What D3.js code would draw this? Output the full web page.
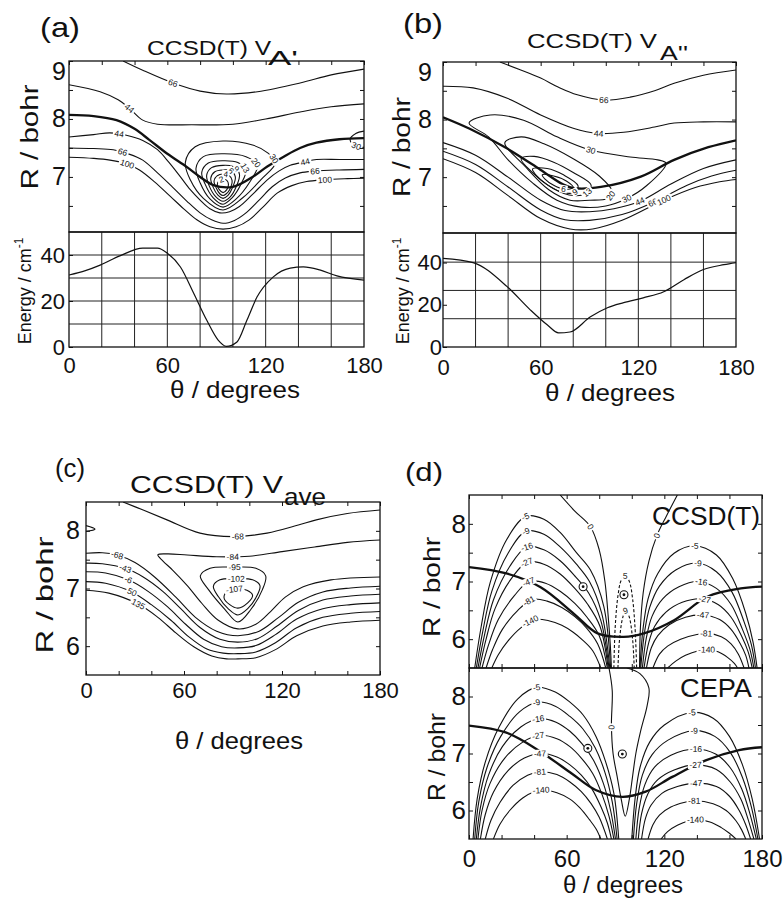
<!DOCTYPE html>
<html>
<head>
<meta charset="utf-8">
<script src="https://cdn.jsdelivr.net/npm/d3@7"></script>
<style>
  body { margin: 0; background: #fff; }
  text { font-family: "Liberation Sans", Arial, Helvetica, sans-serif; fill: #111; }
</style>
</head>
<body>
<svg id="fig" width="783" height="900"></svg>
<script>
// ---- axis values ----
const thetaTicks = [0, 20, 40, 60, 80, 100, 120, 140, 160, 180];
const thetaLabels = [0, 60, 120, 180];
const thetaGrid = [20, 40, 60, 80, 100, 120, 140, 160];
const rTicksAB = [6.5, 7, 7.5, 8, 8.5, 9];
const rLabelsAB = [7, 8, 9];
const rTicksCD = [6, 6.5, 7, 7.5, 8];
const rLabelsCD = [6, 7, 8];
const eGridA = [10, 20, 30, 40];
const eGridB = [13.4, 26.8, 40.2];
const eLabels = [0, 20, 40];

// ---- energy along the minimum path (theta, cm-1) ----
const aEnergy = [[0,31.3],[10,33.2],[19,35.6],[31,39.6],[45,43],[54,43],[60,40.8],[68,34.8],[76,23.5],[84,11.7],[91,3],[96,0.3],[102.5,2.2],[108.6,11.7],[114.7,21.7],[124.5,30.4],[135,34.3],[143,34.8],[153,33.5],[163.5,30.9],[180,29.1]];
const bEnergy = [[0,42],[18.5,40],[39.4,28.6],[53.6,17.6],[64,10.5],[71,6.7],[78,7.1],[90.6,14.3],[101,18.6],[111,21],[123,23.3],[135.6,26.2],[148,31.9],[160,36.7],[172.6,39],[180,40]];

// ---- contours, panel (a): CCSD(T) VA' ----
const aContours = [
  {v:"66", pts:[[33,9],[45,8.84],[63.5,8.62],[80,8.48],[96,8.43],[115,8.47],[141,8.62],[160,8.76],[180,8.86]], lab:[[63.5,8.62]]},
  {v:"44", pts:[[0,8.59],[19,8.47],[30,8.33],[37,8.18],[45,7.98],[54,7.91],[75,7.9],[100,7.91],[120,8.0],[141,8.12],[160,8.21],[180,8.26]], lab:[[36,8.16]]},
  {v:"", thick:true, pts:[[0,8.07],[15,8.05],[29,7.98],[40,7.83],[49,7.64],[60,7.4],[72,7.17],[80,7.0],[88,6.86],[100,6.83],[112,7.0],[121,7.18],[131,7.35],[141,7.5],[151,7.59],[165,7.65],[180,7.67]]},
  {v:"44", pts:[[0,7.69],[15,7.73],[25,7.76],[35,7.72],[45,7.63],[54,7.47],[61,7.25],[68,7.0],[74,6.78],[80,6.6],[86,6.45],[92,6.38],[98,6.4],[104,6.49],[112,6.7],[121,6.95],[128,7.1],[135,7.2],[144,7.26],[151,7.3],[165,7.3],[180,7.3]], lab:[[31,7.78],[144,7.26]]},
  {v:"66", pts:[[0,7.5],[15,7.49],[27,7.47],[36,7.4],[45,7.29],[54,7.07],[63,6.83],[72,6.58],[80,6.38],[87,6.26],[94,6.2],[101,6.25],[108,6.38],[116,6.6],[124,6.83],[132,6.98],[141,7.07],[150,7.1],[165,7.12],[180,7.13]], lab:[[33,7.45],[150,7.08]]},
  {v:"100", pts:[[0,7.34],[15,7.32],[25,7.29],[36,7.22],[43,7.12],[52,6.92],[62,6.66],[70,6.45],[78,6.26],[86,6.14],[94,6.1],[102,6.14],[110,6.26],[118,6.47],[127,6.72],[136,6.85],[145,6.92],[156,6.95],[170,6.97],[180,6.98]], lab:[[36,7.26],[156,6.94]]},
  {v:"30", pts:[[180,7.79],[175,7.75],[171.5,7.65],[174,7.55],[180,7.51]], lab:[[175.5,7.54]]},
  {v:"30", closed:true, pts:[[94,7.62],[112,7.55],[121,7.42],[126,7.25],[117,6.95],[106,6.64],[94,6.43],[82,6.63],[74,6.95],[71,7.25],[77,7.52]], lab:[[125,7.31]]},
  {v:"20", closed:true, pts:[[94,7.4],[108,7.35],[115,7.2],[110,6.9],[102,6.62],[94,6.48],[86,6.62],[80,6.9],[77.5,7.15],[82,7.35]], lab:[[114,7.24]]},
  {v:"13", closed:true, pts:[[94,7.28],[103,7.25],[108,7.12],[105,6.88],[99.5,6.64],[94,6.53],[88,6.64],[83,6.88],[81,7.08],[85,7.24]], lab:[[107.4,7.16]]},
  {v:"9", closed:true, pts:[[94,7.2],[100,7.18],[104,7.05],[102,6.83],[98.5,6.66],[94,6.58],[89.5,6.66],[85.5,6.85],[84,7.03],[87,7.16]], lab:[[102.5,7.15]]},
  {v:"6", closed:true, pts:[[94,7.12],[98.5,7.11],[101.5,7.0],[99.5,6.8],[97,6.68],[94,6.63],[91,6.68],[88,6.82],[86.5,6.98],[89,7.09]], lab:[[99.5,7.12]]},
  {v:"4", closed:true, pts:[[94,7.05],[97.5,7.03],[99.5,6.94],[98,6.78],[96,6.71],[94,6.68],[92,6.71],[90,6.8],[88.5,6.93],[90.5,7.02]], lab:[[95.8,7.07]]},
  {v:"2", closed:true, pts:[[94,6.96],[96.3,6.94],[97.3,6.87],[96.3,6.78],[94,6.73],[91.7,6.78],[90.5,6.87],[91.7,6.94]], lab:[[92.8,6.98]]}
];

// ---- contours, panel (b): CCSD(T) VA'' ----
const bContours = [
  {v:"66", pts:[[35,9],[47,8.87],[60,8.72],[71,8.56],[82.5,8.43],[98.8,8.34],[115,8.39],[130,8.5],[142,8.63],[160,8.77],[180,8.86]], lab:[[98.8,8.34]]},
  {v:"44", pts:[[0,8.58],[18.5,8.55],[39.5,8.37],[60,8.08],[80,7.85],[95,7.76],[111,7.78],[130,7.87],[142,7.94],[160,7.96],[180,7.96]], lab:[[95.6,7.76]]},
  {v:"", thick:true, pts:[[0,8.04],[16.4,7.84],[39.2,7.5],[59.8,7.13],[74,6.87],[80.4,6.81],[97,6.83],[121.5,7.01],[142,7.3],[163,7.52],[180,7.64]]},
  {v:"30", closed:true, pts:[[16,7.94],[29,8.08],[49.5,7.99],[70,7.7],[90.6,7.47],[115,7.35],[132,7.3],[137,7.24],[125,6.85],[113,6.63],[100,6.5],[85,6.48],[70,6.6],[55,6.9],[40,7.3],[28,7.7]], lab:[[90.6,7.46],[113,6.63]]},
  {v:"20", closed:true, pts:[[38,7.6],[48,7.7],[62,7.58],[80,7.32],[96,7.02],[104,6.75],[101,6.63],[90,6.6],[78,6.6],[65,6.78],[50,7.2]], lab:[[104,6.66]]},
  {v:"13", closed:true, pts:[[48,7.32],[56,7.36],[68,7.26],[80,7.08],[91,6.86],[88,6.72],[80,6.68],[68,6.8],[55,7.08]], lab:[[89.4,6.7]]},
  {v:"9", closed:true, pts:[[55,7.14],[64,7.15],[74,7.04],[83,6.85],[81,6.74],[74,6.73],[64,6.87],[57,7.04]], lab:[[81.4,6.72]]},
  {v:"6", closed:true, pts:[[61,7.04],[68,7.02],[76,6.93],[80,6.82],[75,6.79],[68,6.86],[62.5,6.97]], lab:[[74,6.8]]},
  {v:"44", pts:[[0,7.6],[20,7.38],[40,7.0],[60,6.6],[75,6.42],[90,6.4],[105,6.45],[121,6.58],[140,6.88],[160,7.15],[180,7.3]], lab:[[121,6.58]]},
  {v:"66", pts:[[0,7.45],[20,7.22],[40,6.83],[60,6.43],[75,6.26],[90,6.25],[110,6.35],[129,6.56],[150,6.86],[165,7.02],[180,7.12]], lab:[[129,6.56]]},
  {v:"100", pts:[[0,7.32],[20,7.08],[40,6.68],[60,6.28],[78,6.1],[92,6.1],[110,6.25],[135.6,6.6],[155,6.82],[170,6.92],[180,6.96]], lab:[[135.6,6.6]]}
];

// ---- contours, panel (c): CCSD(T) Vave ----
const cContours = [
  {v:"-68", pts:[[22.7,8.5],[35,8.36],[49.6,8.19],[69.8,7.96],[90,7.9],[110.8,7.96],[130,8.1],[141,8.19],[160,8.3],[180,8.36]], lab:[[93,7.9]]},
  {v:"", pts:[[0,8.09],[5.5,8.03],[0,7.99]]},
  {v:"-84", pts:[[180,7.84],[160,7.8],[140,7.72],[120,7.64],[100,7.56],[80,7.55],[62,7.58],[50,7.6],[44,7.585],[47,7.48],[53,7.32],[62,7.05],[71,6.74],[81,6.45],[93,6.3],[104,6.38],[113,6.6],[122,6.85],[133,7.03],[150,7.15],[180,7.2]], lab:[[90,7.55]]},
  {v:"-95", closed:true, pts:[[90,7.37],[104,7.35],[110,7.22],[108,6.98],[101,6.64],[93,6.42],[85,6.64],[75,6.98],[70,7.22],[76,7.35]], lab:[[91,7.37]]},
  {v:"-102", closed:true, pts:[[92,7.17],[102,7.15],[106.5,7.05],[104,6.84],[99,6.65],[93,6.54],[87,6.65],[81,6.86],[78,7.04],[82,7.15]], lab:[[92,7.17]]},
  {v:"-107", closed:true, pts:[[92,6.99],[98.5,6.97],[102,6.88],[99,6.75],[93,6.66],[88,6.72],[84.5,6.84],[86.5,6.95]], lab:[[91,6.98]]},
  {v:"-68", pts:[[0,7.61],[10,7.62],[19,7.58],[30,7.45],[42,7.2],[55,6.85],[67,6.5],[80,6.26],[93,6.18],[106,6.26],[118,6.5],[130,6.76],[145,6.94],[162,7.01],[180,7.04]], lab:[[19,7.58]]},
  {v:"-43", pts:[[0,7.44],[10,7.43],[24,7.35],[35,7.2],[47,6.95],[58,6.65],[70,6.32],[82,6.12],[93,6.07],[105,6.13],[117,6.35],[130,6.62],[145,6.8],[162,6.87],[180,6.9]], lab:[[24,7.35]]},
  {v:"-6", pts:[[0,7.29],[12,7.27],[26,7.15],[38,6.95],[50,6.68],[61,6.38],[72,6.12],[83,5.99],[93,5.97],[104,6.01],[116,6.2],[129,6.47],[145,6.65],[162,6.72],[180,6.75]], lab:[[26,7.15]]},
  {v:"50", pts:[[0,7.12],[12,7.09],[28,6.94],[40,6.72],[52,6.45],[63,6.16],[74,5.95],[84,5.88],[93,5.87],[104,5.9],[116,6.06],[129,6.32],[145,6.5],[162,6.57],[180,6.6]], lab:[[28,6.94]]},
  {v:"135", pts:[[0,6.97],[14,6.92],[32,6.73],[44,6.5],[55,6.23],[66,5.99],[77,5.83],[86,5.78],[93,5.78],[104,5.8],[116,5.94],[129,6.18],[145,6.35],[162,6.42],[180,6.45]], lab:[[32,6.73]]}
];

// ---- contours, panel (d) upper: CCSD(T) ----
const dTopContours = [
  {v:"-5", pts:[[3.5,5.5],[7.5,6.22],[13,6.98],[23,7.72],[35,8.13],[46,8.08],[56,7.85],[66,7.5],[74.6,7.2],[82.8,6.57],[87,5.5]], lab:[[34.8,8.13]]},
  {v:"-9", pts:[[4.5,5.5],[8.5,6.14],[14,6.83],[24,7.49],[35,7.87],[46,7.82],[56,7.6],[66,7.3],[74,7.0],[81.5,6.45],[86.5,5.5]], lab:[[34.8,7.87]]},
  {v:"-16", pts:[[5.5,5.5],[9.5,6.07],[15,6.68],[25,7.26],[35.5,7.6],[46,7.55],[56,7.36],[65.5,7.08],[73.5,6.8],[81,6.32],[86,5.5]], lab:[[35.5,7.6]]},
  {v:"-27", pts:[[6.5,5.5],[10.5,6.0],[16,6.53],[26,7.05],[36,7.34],[46,7.3],[56,7.13],[65,6.88],[73,6.6],[80.5,6.22],[85.5,5.5]], lab:[[35.5,7.34]]},
  {v:"-47", pts:[[8,5.5],[12,5.9],[18,6.34],[28,6.76],[37,7.0],[47,6.97],[56,6.83],[65,6.62],[72.5,6.38],[80,6.06],[85,5.5]], lab:[[36.3,7.0]]},
  {v:"-81", pts:[[10.5,5.5],[14.5,5.82],[20.5,6.17],[30,6.5],[39,6.69],[48,6.66],[57,6.55],[65,6.39],[72,6.2],[79,5.92],[84,5.5]], lab:[[36.3,6.69]]},
  {v:"-140", pts:[[14,5.5],[18,5.73],[24,5.97],[32,6.2],[40,6.34],[49,6.32],[57,6.24],[64,6.12],[70,5.98],[76,5.8],[81,5.5]], lab:[[37,6.34]]},
  {v:"-5", pts:[[105,5.5],[107,6.2],[110,6.7],[116,7.14],[126,7.49],[138.6,7.62],[152,7.46],[162,7.05],[170,6.45],[174.5,5.95],[177,5.5]], lab:[[138.6,7.6]]},
  {v:"-9", pts:[[105.5,5.5],[108,6.15],[111,6.55],[117,6.92],[127,7.2],[140,7.32],[152,7.17],[161.5,6.82],[169,6.3],[173.5,5.9],[176,5.5]], lab:[[140.7,7.3]]},
  {v:"-16", pts:[[106.5,5.5],[109,6.03],[112.5,6.4],[119,6.7],[129,6.91],[141,7.0],[152,6.88],[161,6.6],[168,6.17],[172.5,5.83],[175,5.5]], lab:[[142.7,6.97]]},
  {v:"-27", pts:[[107.5,5.5],[110.5,5.95],[114,6.22],[121,6.47],[131,6.64],[143,6.7],[153,6.6],[161,6.38],[167.5,6.05],[171.5,5.78],[174,5.5]], lab:[[144.8,6.69]]},
  {v:"-47", pts:[[109,5.5],[112,5.85],[116,6.06],[123,6.25],[133,6.38],[143.8,6.42],[154,6.34],[161,6.17],[166.5,5.93],[170,5.72],[172,5.5]], lab:[[143.8,6.4]]},
  {v:"-81", pts:[[113,5.5],[117,5.74],[122,5.88],[130,6.0],[140,6.08],[146,6.1],[155,6.04],[161,5.92],[165.5,5.74],[169,5.5]], lab:[[145.8,6.08]]},
  {v:"-140", pts:[[122,5.5],[127,5.62],[133,5.72],[141,5.8],[146,5.82],[153,5.78],[159,5.68],[163,5.58],[165,5.5]], lab:[[145.8,5.79]]},
  {v:"0", pts:[[56,8.5],[65,8.22],[74.6,7.95],[80,7.55],[83.5,7.0],[85.5,6.4],[86.8,5.9],[87.5,5.5]], lab:[[74.6,7.95]]},
  {v:"0", pts:[[128,8.5],[121,8.12],[115.5,7.8],[110.5,7.35],[107,6.8],[105.3,6.2],[104.8,5.5]], lab:[[115.5,7.8]]},
  {v:"5", dash:true, pts:[[89,5.5],[89.8,6.2],[91.5,6.75],[93.5,7.02],[96,7.1],[98.5,7.0],[100.5,6.7],[102,6.2],[103,5.5]], lab:[[96,7.1]]},
  {v:"9", dash:true, pts:[[91.5,5.5],[92.5,6.0],[94.5,6.38],[96.5,6.5],[98.5,6.38],[100.5,6.0],[101.5,5.5]], lab:[[96.5,6.48]]},
  {v:"", thick:true, pts:[[0,7.25],[23,7.14],[44,6.9],[64.5,6.44],[79,6.1],[95,6.04],[107.4,6.1],[126,6.33],[146.6,6.74],[167,6.88],[180,6.91]]}
];
const dTopMarks = [[70.1,6.91],[95.2,6.77]];

// ---- contours, panel (d) lower: CEPA ----
const dBotContours = [
  {v:"-5", pts:[[2.5,5.5],[5,6.2],[10,6.85],[18.4,7.46],[30,7.96],[41.4,8.16],[53,8.08],[62,7.9],[70,7.68],[78,7.3],[84,6.85],[89,6.3],[92,5.5]], lab:[[41.4,8.16]]},
  {v:"-9", pts:[[3.5,5.5],[6,6.15],[11,6.75],[19.5,7.3],[31,7.73],[42,7.9],[53,7.83],[62,7.65],[70,7.43],[77.5,7.1],[83.5,6.67],[88,6.15],[91,5.5]], lab:[[41.4,7.9]]},
  {v:"-16", pts:[[4.5,5.5],[7,6.05],[12,6.62],[20.5,7.12],[32,7.47],[43,7.61],[53.5,7.55],[62,7.39],[69.5,7.17],[76.5,6.88],[82.5,6.48],[87,6.0],[90,5.5]], lab:[[42.4,7.61]]},
  {v:"-27", pts:[[5.5,5.5],[8,6.0],[13,6.48],[22,6.92],[33,7.2],[43.5,7.32],[54,7.26],[62,7.12],[69,6.92],[76,6.65],[81.5,6.3],[86,5.9],[89,5.5]], lab:[[42.4,7.32]]},
  {v:"-47", pts:[[7,5.5],[10,5.93],[15,6.32],[24,6.7],[34,6.92],[44,7.0],[54,6.94],[62,6.8],[69,6.62],[75.5,6.38],[81,6.07],[85,5.78],[87.5,5.5]], lab:[[43.5,7.0]]},
  {v:"-81", pts:[[10,5.5],[13.5,5.83],[19,6.14],[27,6.44],[36,6.62],[44,6.68],[54,6.63],[62,6.5],[69,6.33],[75,6.12],[80,5.88],[85,5.5]], lab:[[43.5,6.68]]},
  {v:"-140", pts:[[15,5.5],[19,5.76],[25,6.0],[33,6.22],[40,6.33],[45,6.36],[54,6.31],[62,6.2],[68,6.05],[74,5.84],[78,5.68],[81,5.5]], lab:[[44.5,6.36]]},
  {v:"-5", pts:[[100,5.5],[102,6.2],[105,6.75],[111,7.2],[120,7.5],[137,7.72],[150,7.62],[160,7.3],[168,6.8],[174,6.2],[178.5,5.5]], lab:[[137.2,7.7]]},
  {v:"-9", pts:[[101,5.5],[103,6.12],[106.5,6.62],[112.5,6.98],[122,7.23],[138,7.4],[151,7.3],[160.5,7.02],[168,6.58],[173.5,6.06],[177.5,5.5]], lab:[[138.3,7.38]]},
  {v:"-16", pts:[[102.5,5.5],[104.5,6.03],[108,6.45],[114,6.76],[124,6.97],[139,7.08],[151.5,6.99],[160.5,6.75],[167.5,6.38],[172.5,5.95],[176.5,5.5]], lab:[[139.3,7.06]]},
  {v:"-27", pts:[[104,5.5],[106,5.94],[110,6.3],[116,6.54],[126,6.71],[139,6.8],[152,6.72],[160.5,6.5],[167,6.2],[171.5,5.84],[175,5.5]], lab:[[139.3,6.79]]},
  {v:"-47", pts:[[106,5.5],[108.5,5.87],[112,6.1],[118.5,6.3],[128,6.42],[139,6.48],[152,6.42],[160,6.25],[166,6.0],[170,5.75],[173,5.5]], lab:[[139.3,6.47]]},
  {v:"-81", pts:[[110,5.5],[113,5.75],[117,5.92],[124,6.06],[132,6.14],[138,6.17],[150,6.12],[158,6.0],[164,5.82],[167.5,5.66],[170,5.5]], lab:[[138.3,6.16]]},
  {v:"-140", pts:[[118,5.5],[122,5.63],[128,5.74],[135,5.82],[139,5.84],[148,5.8],[155,5.7],[160,5.6],[164,5.5]], lab:[[139.3,5.82]]},
  {v:"0", pts:[[86,8.5],[88,8.1],[87.5,7.5],[88.5,7.0],[91,6.6],[93.5,6.2],[96,5.9],[98.5,6.2],[100.5,6.6],[102.5,7.0],[105.5,7.4],[109.5,7.85],[110.5,8.15],[105,8.4],[97,8.5]], lab:[[87.5,7.46]]},
  {v:"", thick:true, pts:[[0,7.49],[22.5,7.37],[43,7.05],[63.5,6.64],[77.8,6.36],[94.2,6.24],[108.5,6.33],[124.9,6.59],[145.4,6.88],[165.9,7.06],[180,7.11]]}
];
const dBotMarks = [[73,7.09],[94.2,6.99]];

// ---------------------------------------------------------------
const svg = d3.select("#fig");
const FONT = "'Liberation Sans', Arial, Helvetica, sans-serif";
let clipN = 0;

// build one plotting box with its own scales
function mk(x0, x1, y0, y1, rDom) {
  const id = "clip" + (clipN++);
  svg.append("clipPath").attr("id", id).append("rect")
    .attr("x", x0).attr("y", y0).attr("width", x1 - x0).attr("height", y1 - y0);
  const p = {
    x0, x1, y0, y1,
    x: d3.scaleLinear().domain([0, 180]).range([x0, x1]),
    y: d3.scaleLinear().domain(rDom).range([y1, y0]),
    g: svg.append("g")
  };
  p.lines = p.g.append("g").attr("clip-path", `url(#${id})`);
  p.lab = p.g.append("g");
  return p;
}

function frame(p) {
  p.g.append("rect").attr("x", p.x0).attr("y", p.y0)
    .attr("width", p.x1 - p.x0).attr("height", p.y1 - p.y0)
    .attr("fill", "none").attr("stroke", "#111").attr("stroke-width", 1.3);
}

// inward ticks, labels only where listed
function axis(p, gen, pos, vals, labs, pad, fs) {
  const g = p.g.append("g").attr("transform", pos)
    .call(gen.tickValues(vals).tickSize(-4).tickPadding(pad)
      .tickFormat(d => labs.includes(d) ? String(d) : ""));
  g.select(".domain").remove();
  g.attr("font-family", FONT).attr("font-size", fs);
  g.selectAll("line").attr("stroke", "#111");
  g.selectAll("text").attr("fill", "#111");
  return g;
}

function contourAxes(p, rTicks, rLabs, pad, fs, top, bottom) {
  const ly = axis(p, d3.axisLeft(p.y), `translate(${p.x0},0)`, rTicks, rLabs, pad, fs);
  axis(p, d3.axisRight(p.y), `translate(${p.x1},0)`, rTicks, [], 0, fs);
  if (top) axis(p, d3.axisTop(p.x), `translate(0,${p.y0})`, thetaTicks, [], 0, fs);
  if (bottom) axis(p, d3.axisBottom(p.x), `translate(0,${p.y1})`, thetaTicks, [], 0, fs);
  return ly;
}

function xLabels(p, pad, fs) {
  const g = p.g.append("g").attr("transform", `translate(0,${p.y1})`)
    .call(d3.axisBottom(p.x).tickValues(thetaLabels).tickSize(0).tickPadding(pad));
  g.select(".domain").remove();
  g.attr("font-family", FONT).attr("font-size", fs);
  g.selectAll("text").attr("fill", "#111");
}

// labels sit on their own line, turned along it, with a white gap
function labels(p, node, c) {
  const L = node.getTotalLength();
  const samples = d3.range(0, L, 0.7).map(l => {
    const q = node.getPointAtLength(l);
    return [l, q.x, q.y];
  });
  c.lab.forEach(([t, r]) => {
    const tx = p.x(t), ty = p.y(r);
    const best = d3.least(samples, s => (s[1] - tx) ** 2 + (s[2] - ty) ** 2);
    const a = node.getPointAtLength(Math.max(0, best[0] - 4));
    const b = node.getPointAtLength(Math.min(L, best[0] + 4));
    let ang = Math.atan2(b.y - a.y, b.x - a.x) * 180 / Math.PI;
    if (ang > 90) ang -= 180;
    if (ang < -90) ang += 180;
    const g = p.lab.append("g").attr("transform", `translate(${best[1]},${best[2]}) rotate(${ang})`);
    const t0 = g.append("text").attr("text-anchor", "middle").attr("dy", "0.35em")
      .attr("font-size", 8.5).text(c.v);
    const w = t0.node().getComputedTextLength();
    g.insert("rect", "text").attr("x", -w / 2 - 1.5).attr("y", -4).attr("width", w + 3)
      .attr("height", 8).attr("fill", "#fff");
  });
}

function contours(p, list) {
  list.forEach(c => {
    const line = d3.line().x(d => p.x(d[0])).y(d => p.y(d[1]))
      .curve(c.closed ? d3.curveCatmullRomClosed.alpha(0.5) : d3.curveCatmullRom.alpha(0.5));
    const path = p.lines.append("path").attr("d", line(c.pts))
      .attr("fill", "none").attr("stroke", "#111")
      .attr("stroke-width", c.thick ? 2.3 : 1.1)
      .attr("stroke-dasharray", c.dash ? "3,2" : null);
    if (c.lab) labels(p, path.node(), c);
  });
}

function marks(p, list) {
  p.lab.selectAll(null).data(list).join("circle")
    .attr("cx", d => p.x(d[0])).attr("cy", d => p.y(d[1])).attr("r", 4)
    .attr("fill", "#fff").attr("stroke", "#111").attr("stroke-width", 1.1);
  p.lab.selectAll(null).data(list).join("circle")
    .attr("cx", d => p.x(d[0])).attr("cy", d => p.y(d[1])).attr("r", 1.4).attr("fill", "#111");
}

function energy(p, grid, data) {
  p.lines.selectAll(null).data(thetaGrid).join("line")
    .attr("x1", d => p.x(d)).attr("x2", d => p.x(d)).attr("y1", p.y0).attr("y2", p.y1)
    .attr("stroke", "#222").attr("stroke-width", 1);
  p.lines.selectAll(null).data(grid).join("line")
    .attr("x1", p.x0).attr("x2", p.x1).attr("y1", d => p.y(d)).attr("y2", d => p.y(d))
    .attr("stroke", "#222").attr("stroke-width", 1);
  p.lines.append("path").datum(data)
    .attr("d", d3.line().x(d => p.x(d[0])).y(d => p.y(d[1])).curve(d3.curveMonotoneX))
    .attr("fill", "none").attr("stroke", "#111").attr("stroke-width", 1.2);
}

function text(s, x, y, fs, opt = {}) {
  const t = svg.append("text").attr("x", x).attr("y", y).attr("font-size", fs)
    .attr("text-anchor", opt.anchor || "start").text(s);
  if (opt.len) t.attr("textLength", opt.len).attr("lengthAdjust", "spacingAndGlyphs");
  return t;
}

function vtext(s, x, y, fs, len) {
  const t = svg.append("text").attr("transform", `translate(${x},${y}) rotate(-90)`)
    .attr("font-size", fs).attr("text-anchor", "middle").text(s);
  if (len) t.attr("textLength", len).attr("lengthAdjust", "spacingAndGlyphs");
  return t;
}

function energyTitle(x, y) {
  const t = svg.append("text").attr("transform", `translate(${x},${y}) rotate(-90)`)
    .attr("font-size", 18).attr("text-anchor", "middle");
  t.append("tspan").text("Energy / cm");
  t.append("tspan").attr("font-size", 12).attr("dy", -8).text("-1");
}

// ---- panel boxes ----
const A = mk(69, 364, 61, 232, [6.05, 9]);
const AE = mk(69, 364, 232, 347, [0, 50]);
const B = mk(443, 736, 62, 233, [6.03, 9]);
const BE = mk(443, 736, 233, 347, [0, 54]);
const C = mk(86, 380, 502, 675, [5.5, 8.5]);
const D1 = mk(469, 762, 495, 668, [5.5, 8.5]);
const D2 = mk(469, 762, 668, 839, [5.5, 8.5]);

// (a)
contours(A, aContours);
energy(AE, eGridA, aEnergy);
contourAxes(A, rTicksAB, rLabelsAB, 3, 25, true, false)
  .selectAll("text").filter(d => d === 9).attr("dy", "0.75em");
axis(AE, d3.axisLeft(AE.y), `translate(${AE.x0},0)`, eLabels, eLabels, 4, 22);
frame(A); frame(AE);
xLabels(AE, 10, 22);

// (b)
contours(B, bContours);
energy(BE, eGridB, bEnergy);
contourAxes(B, rTicksAB, rLabelsAB, 11, 25, true, false)
  .selectAll("text").filter(d => d === 9).attr("dy", "0.75em");
axis(BE, d3.axisLeft(BE.y), `translate(${BE.x0},0)`, eLabels, eLabels, 1, 22);
frame(B); frame(BE);
xLabels(BE, 12, 22);

// (c)
contours(C, cContours);
contourAxes(C, rTicksCD, rLabelsCD, 6, 25, true, true);
frame(C);
xLabels(C, 7, 22);

// (d)
contours(D1, dTopContours);
marks(D1, dTopMarks);
contours(D2, dBotContours);
marks(D2, dBotMarks);
contourAxes(D1, rTicksCD, rLabelsCD, 3, 26, true, true);
contourAxes(D2, rTicksCD, rLabelsCD, 3, 26, true, true);
frame(D1); frame(D2);
xLabels(D2, 11, 24);

// ---- titles and axis names ----
text("(a)", 40, 37, 28, {len: 40});
text("CCSD(T) V", 147, 55, 20, {len: 124});
text("A'", 268, 65, 21, {len: 30});
text("(b)", 403, 33, 27, {len: 40});
text("CCSD(T) V", 527, 48, 21, {len: 130});
text("A''", 660, 60, 21, {len: 28});
text("(c)", 55, 477, 26, {len: 30});
text("CCSD(T) V", 130, 493, 24, {len: 153});
text("ave", 284, 505, 24, {len: 42});
text("(d)", 405, 481, 26, {len: 38});
text("CCSD(T)", 652, 525, 26, {len: 108});
text("CEPA", 680, 697, 25, {len: 72});

vtext("R / bohr", 38, 137, 23, 105);
vtext("R / bohr", 410, 147, 23, 100);
vtext("R / bohr", 53, 595, 24, 117);
vtext("R / bohr", 440, 587, 24, 100);
vtext("R / bohr", 445, 757, 24, 88);
energyTitle(31, 291);
energyTitle(409, 291);

text("θ / degrees", 235, 398, 24, {anchor: "middle", len: 130});
text("θ / degrees", 610, 401, 24, {anchor: "middle", len: 130});
text("θ / degrees", 239, 749, 24, {anchor: "middle", len: 128});
text("θ / degrees", 623, 893, 24, {anchor: "middle", len: 120});
</script>
</body>
</html>
